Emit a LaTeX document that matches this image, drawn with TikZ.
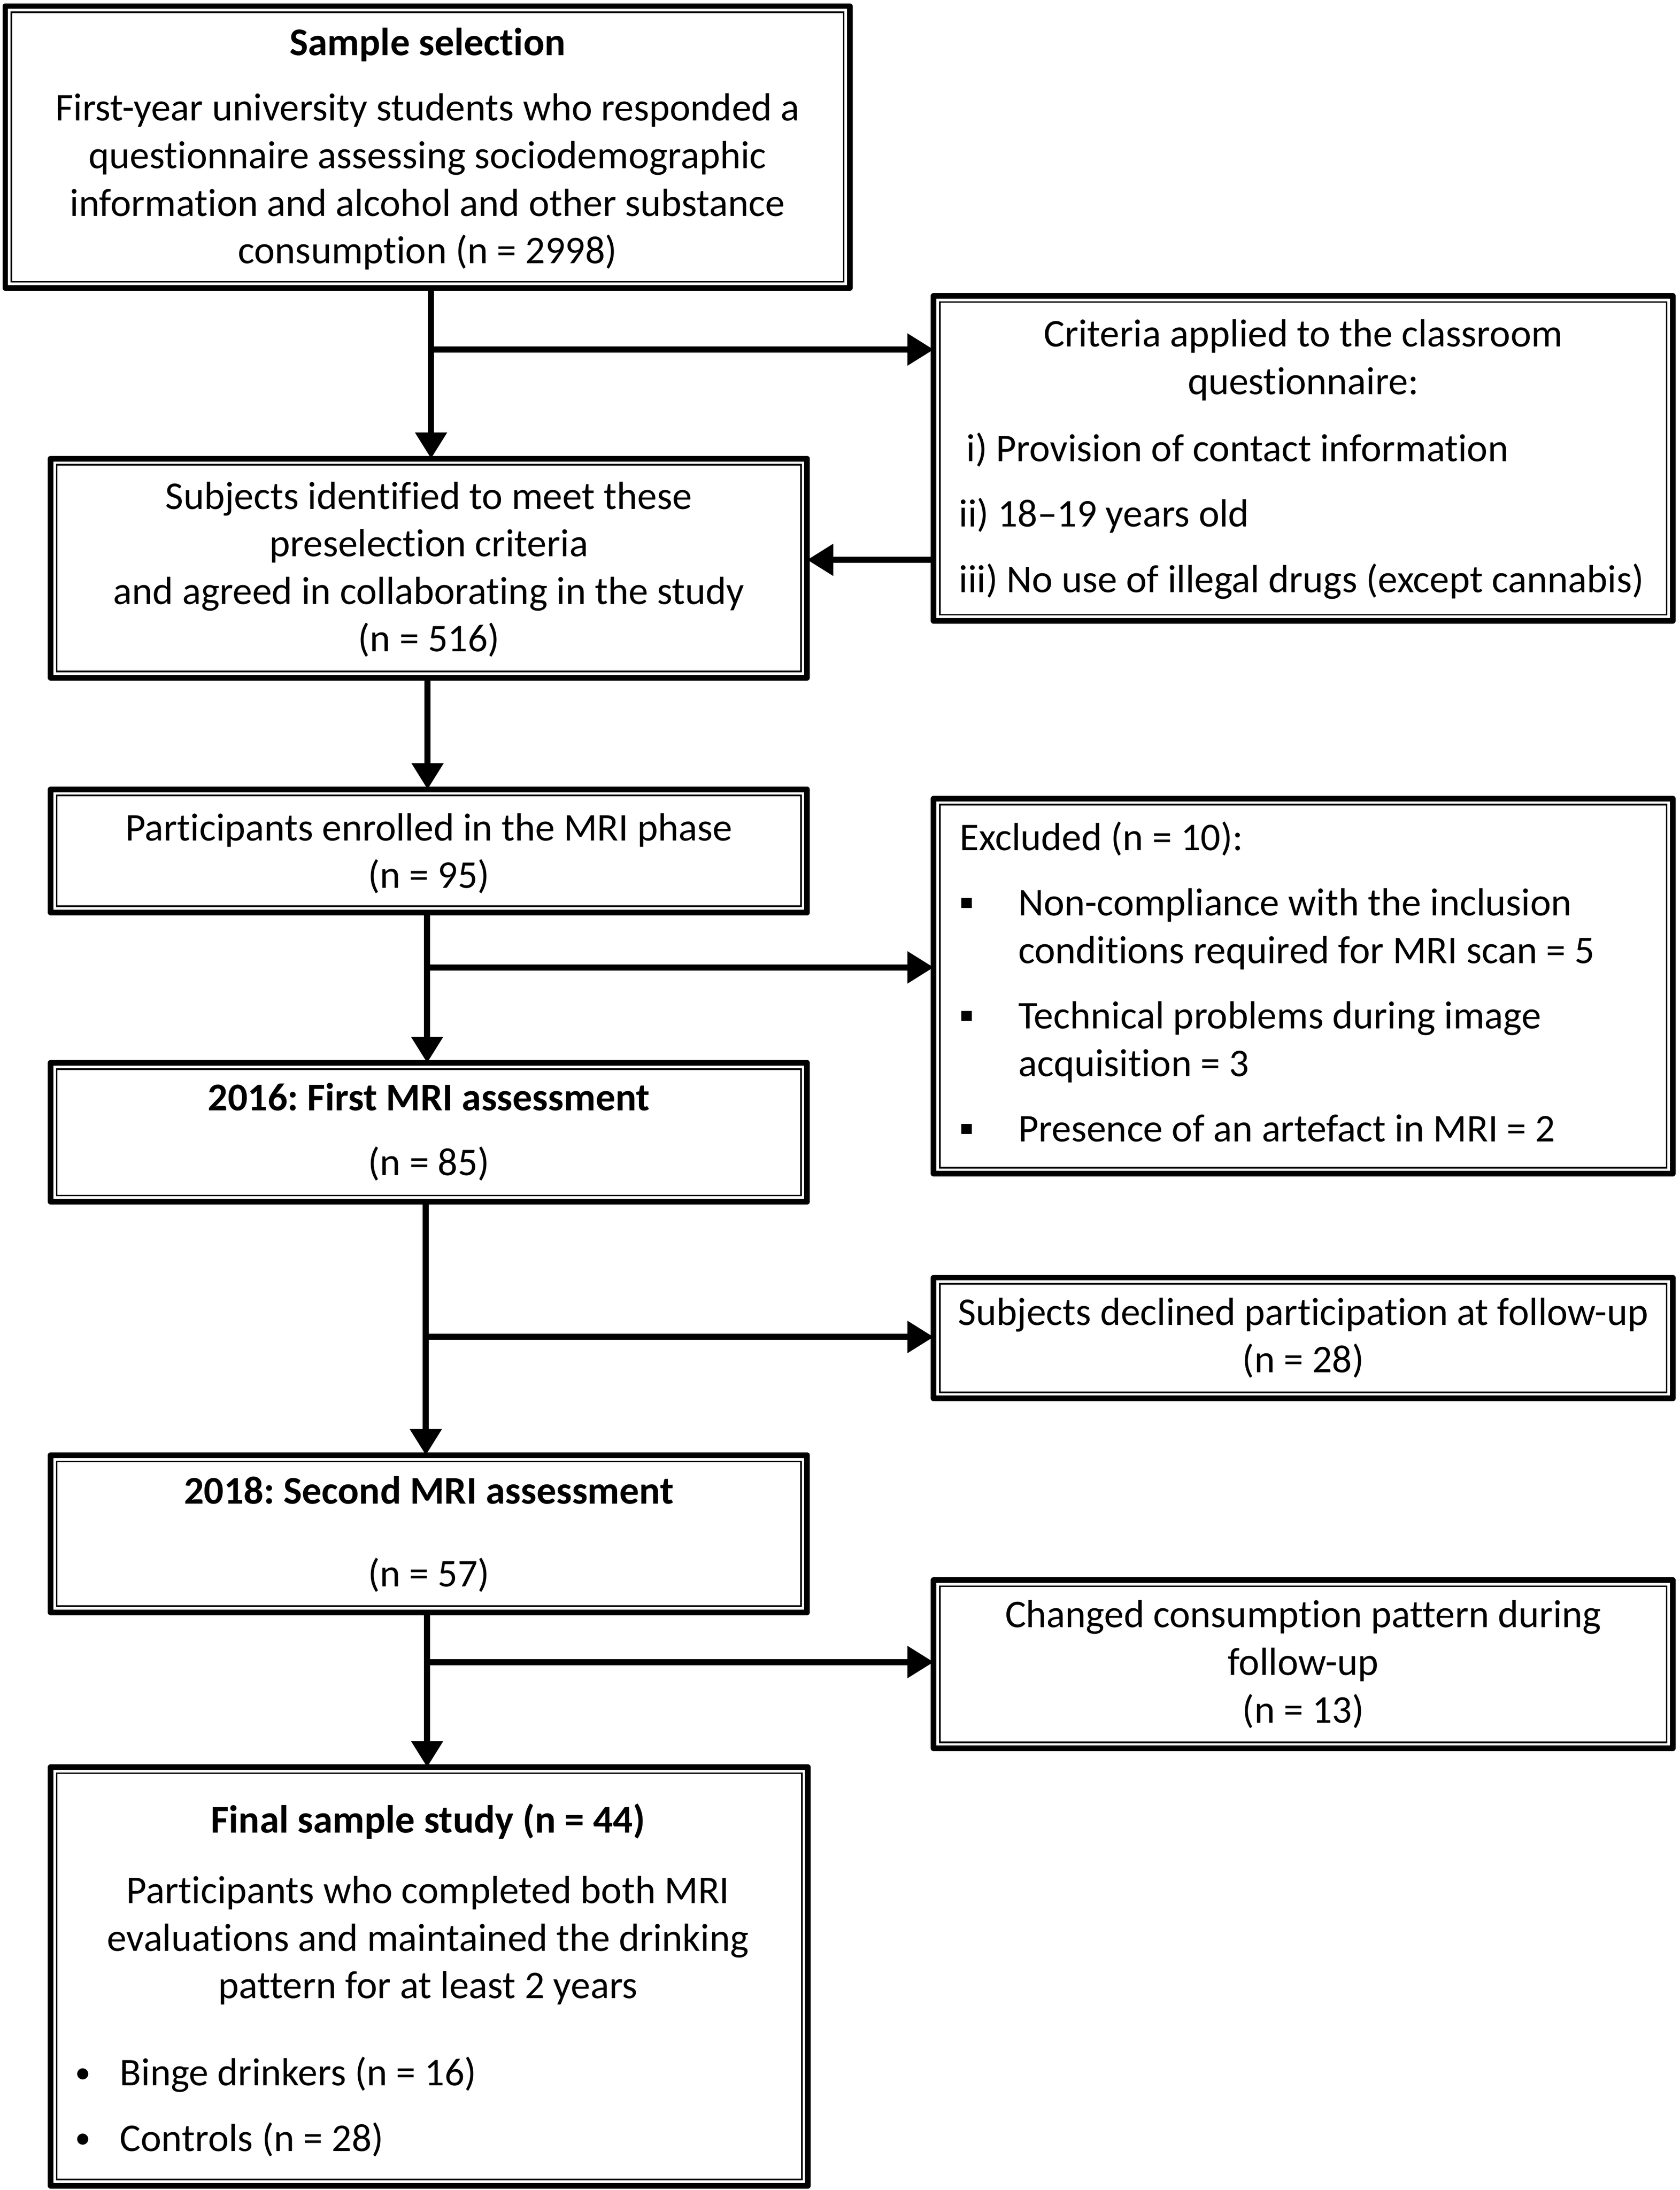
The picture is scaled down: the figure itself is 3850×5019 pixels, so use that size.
\documentclass[tikz,border=0pt]{standalone}
\usepackage{fontspec}
\usepackage{graphicx}
\setmainfont{Carlito}[Ligatures={TeX,NoCommon}]
\usetikzlibrary{arrows.meta}
\frenchspacing
\newcommand{\exclbullet}{\makebox[13.4pt][l]{\hspace{0.3pt}\rule[1.8pt]{2.4pt}{2.3pt}}}
\newcommand{\finbullet}{\makebox[10.3pt][l]{\raisebox{0.65pt}{\scalebox{0.8}{\textbullet}}}}
\begin{document}
\begin{tikzpicture}[x=0.1pt,y=-0.1pt,
 box/.style={draw, rectangle, line width=1.3pt, line join=round, inner sep=0pt, outer sep=0pt},
 innerline/.style={line width=0.35pt},
 txt/.style={inner sep=0pt, outer sep=0pt, font=\fontsize{9pt}{10.9pt}\selectfont},
 ctxt/.style={txt, align=center},
 ltxt/.style={txt, align=left, anchor=west},
 arr/.style={line width=1.4pt, -{Triangle[length=6pt,width=7pt]}},
]
\useasboundingbox (0,0) rectangle (3850,5019);

% boxes
\node[box, minimum width=193.6pt, minimum height=64.6pt] (b1) at (980,337) {};
\node[box, minimum width=169.4pt, minimum height=74.5pt] (crit) at (2987,1050.5) {};
\node[box, minimum width=173.4pt, minimum height=50.2pt] (b2) at (983,1302) {};
\node[box, minimum width=173.4pt, minimum height=28.2pt] (b3) at (983,1950) {};
\node[box, minimum width=169.4pt, minimum height=86pt] (excl) at (2987,2260) {};
\node[box, minimum width=173.4pt, minimum height=31.8pt] (b4) at (983,2595) {};
\node[box, minimum width=169.4pt, minimum height=27.7pt] (decl) at (2987,3066.5) {};
\node[box, minimum width=173.4pt, minimum height=36pt] (b5) at (983,3515) {};
\node[box, minimum width=169.4pt, minimum height=38.6pt] (chg) at (2987,3814) {};
\node[box, minimum width=173.6pt, minimum height=95.9pt] (b6) at (984,4529.5) {};

\foreach \n in {b1,crit,b2,b3,excl,b4,decl,b5,chg,b6}
  \draw[innerline] ([shift={(14,14)}]\n.north west) rectangle ([shift={(-14,-14)}]\n.south east);

% texts
\node[ctxt] (b1t) at (980,341) {\textbf{Sample selection}\\[4.1pt]
 First-year university students who responded a\\
 questionnaire assessing sociodemographic\\
 information and alcohol and other substance\\
 consumption (n = 2998)};
\node[ctxt] (crith) at (2987,825) {Criteria applied to the classroom\\ questionnaire:};
\node[ltxt] (critl) at (2198,1182) {\hspace*{1.7pt}i) Provision of contact information\\[4.1pt]
 ii) 18–19 years old\\[4.1pt]
 iii) No use of illegal drugs (except cannabis)};
\node[ctxt] (b2t) at (983,1305) {Subjects identified to meet these\\ preselection criteria\\ and agreed in collaborating in the study\\ (n = 516)};
\node[ctxt] (b3t) at (983,1956) {Participants enrolled in the MRI phase\\ (n = 95)};
\node[ltxt] (exclt) at (2200,2250) {Excluded (n = 10):\\[4.1pt]
 \exclbullet Non-compliance with the inclusion\\
 \hspace*{13.4pt}conditions required for MRI scan = 5\\[4.1pt]
 \exclbullet Technical problems during image\\
 \hspace*{13.4pt}acquisition = 3\\[4.1pt]
 \exclbullet Presence of an artefact in MRI = 2};
\node[ctxt] (b4t) at (983,2594) {\textbf{2016: First MRI assessment}\\[4pt] (n = 85)};
\node[ctxt] (declt) at (2987,3066) {Subjects declined participation at follow-up\\ (n = 28)};
\node[ctxt] (b5t) at (983,3516) {\textbf{2018: Second MRI assessment}\\[8pt] (n = 57)};
\node[ctxt] (chgt) at (2987,3814) {Changed consumption pattern during\\ follow-up\\ (n = 13)};
\node[txt, anchor=base] (b6h) at (981,4200) {\textbf{Final sample study (n = 44)}};
\node[ctxt] (b6b) at (981,4447) {Participants who completed both MRI\\ evaluations and maintained the drinking\\ pattern for at least 2 years};
\node[ltxt] (b6l) at (172,4828) {\finbullet Binge drinkers (n = 16)\\[4.1pt] \finbullet Controls (n = 28)};

% connectors
\coordinate (j1) at (988,801);
\draw[arr] (b1.south -| j1) -- (b2.north -| j1);
\draw[arr] (j1) -- (j1 -| crit.west);
\coordinate (j2) at (2000,1283);
\draw[arr] (j2 -| crit.west) -- (j2 -| b2.east);
\coordinate (j3) at (980,1700);
\draw[arr] (b2.south -| j3) -- (b3.north -| j3);
\coordinate (j4) at (979,2217);
\draw[arr] (b3.south -| j4) -- (b4.north -| j4);
\draw[arr] (j4) -- (j4 -| excl.west);
\coordinate (j5) at (976,3064);
\draw[arr] (b4.south -| j5) -- (b5.north -| j5);
\draw[arr] (j5) -- (j5 -| decl.west);
\coordinate (j6) at (979,3809);
\draw[arr] (b5.south -| j6) -- (b6.north -| j6);
\draw[arr] (j6) -- (j6 -| chg.west);
\end{tikzpicture}
\end{document}
